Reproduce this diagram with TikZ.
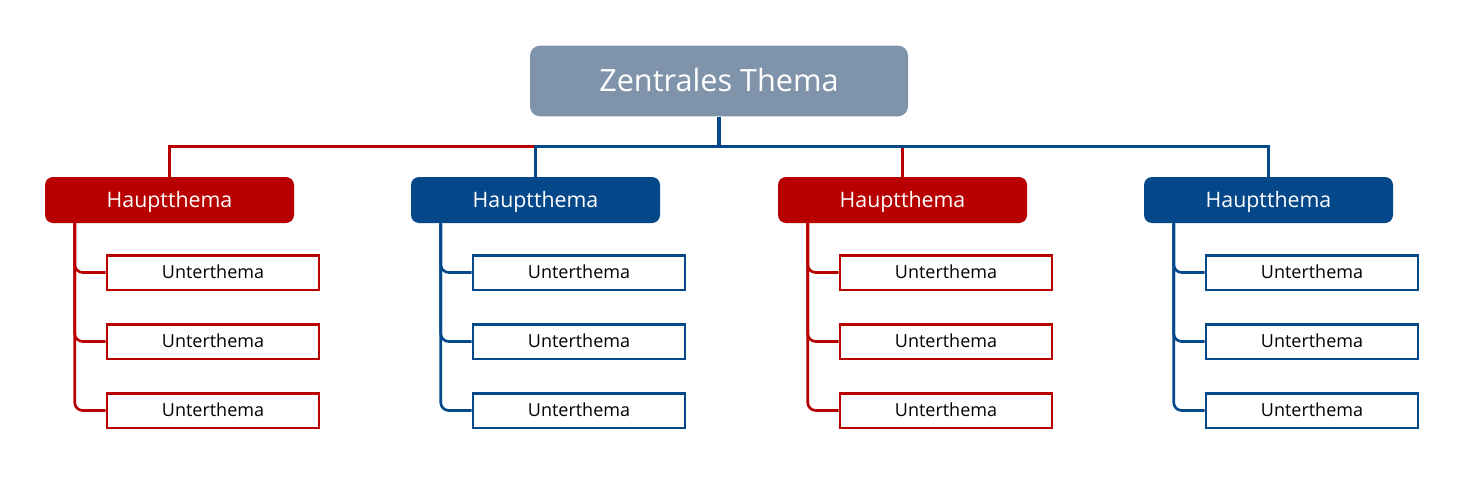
\documentclass[tikz,border=0pt]{standalone}
\usepackage{fontspec}
\setmainfont{Open Sans}
\usetikzlibrary{calc}
\definecolor{cred}{HTML}{B80000}
\definecolor{cblue}{HTML}{04488A}
\definecolor{cgray}{HTML}{7F93AB}
\tikzset{
  central/.style={fill=cgray, rounded corners=7.5pt, minimum width=283.5pt, minimum height=53pt, inner sep=0pt, text=white, font=\fontsize{23}{25}\selectfont, text height=16.4pt, text depth=0pt},
  mainbox/.style={fill=#1, rounded corners=6pt, minimum width=186.75pt, minimum height=34.5pt, inner sep=0pt, text=white, font=\fontsize{16}{18}\selectfont, text height=11.4pt, text depth=0pt},
  subbox/.style={draw=#1, line width=2pt, fill=white, minimum width=159pt, minimum height=26pt, inner sep=0pt, text=black, font=\fontsize{13.5}{15}\selectfont, text height=9.6pt, text depth=0pt},
  conn/.style={draw=#1, line width=2.3pt},
  stem/.style={draw=#1, line width=2.8pt},
  branch/.style={draw=#1, line width=2pt, rounded corners=6pt},
}
\begin{document}
\begin{tikzpicture}[x=0.75pt, y=-0.75pt]
\useasboundingbox (0,0) rectangle (1464,489);
\node[central] (c) at (719,81) {Zentrales Thema};
\node[mainbox=cred] (m1) at (169.5,200) {Hauptthema};
\node[mainbox=cblue] (m2) at (535.5,200) {Hauptthema};
\node[mainbox=cred] (m3) at (902.5,200) {Hauptthema};
\node[mainbox=cblue] (m4) at (1268.5,200) {Hauptthema};
\coordinate (bus) at ($(c.south)+(0,30)$);
% connectors central -> main (reds first, blues on top)
\draw[conn=cred] (bus) -| (m1.north);
\draw[conn=cred] (bus) -| (m3.north);
\draw[conn=cblue] (bus) -| (m2.north);
\draw[conn=cblue] (bus) -| (m4.north);
\draw[stem=cblue] (c.south) -- (bus);
% sub topics
\foreach \m/\col/\x in {1/cred/213, 2/cblue/579, 3/cred/946, 4/cblue/1312}{
  \node[subbox=\col] (s\m a) at (\x,272.5) {Unterthema};
  \node[subbox=\col] (s\m b) at (\x,341.5) {Unterthema};
  \node[subbox=\col] (s\m c) at (\x,410.5) {Unterthema};
  \coordinate (t\m) at ($(m\m.south west)+(30,0)$);
  \draw[branch=\col] (t\m) |- (s\m c.west);
  \draw[branch=\col] (t\m) |- (s\m b.west);
  \draw[branch=\col] (t\m) |- (s\m a.west);
}
\end{tikzpicture}
\end{document}
